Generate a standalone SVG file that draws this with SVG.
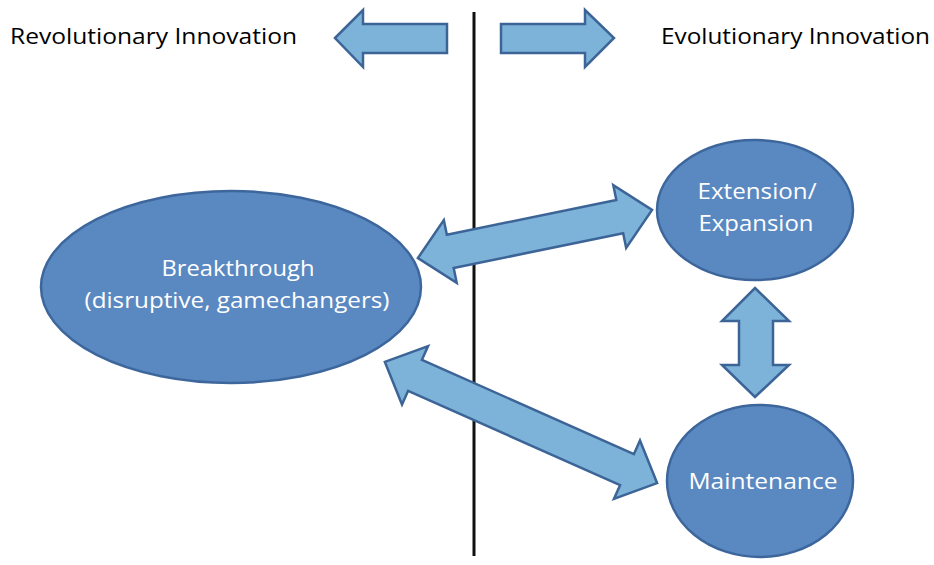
<svg xmlns="http://www.w3.org/2000/svg" width="934" height="565" viewBox="0 0 934 565">
<style>
.node{fill:#5A88C1;stroke:#3D679C;stroke-width:2.5}
.arr{fill:#7DB3D9;stroke:#3C6497;stroke-width:2.5;stroke-linejoin:miter}
.lbl{font-family:"Open Sans","Liberation Sans",sans-serif;font-size:21px;fill:#ffffff;text-anchor:middle}
.top{font-family:"Open Sans","Liberation Sans",sans-serif;font-size:21px;fill:#000000}
</style>
<rect width="934" height="565" fill="#ffffff"/>
<line x1="474" y1="12" x2="474" y2="556" stroke="#111111" stroke-width="3"/>
<g id="top-arrows">
<path class="arr" d="M335,38 L363,10 L363,24 L447,24 L447,53 L363,53 L363,67 Z"/>
<path class="arr" d="M501,24 L585,24 L585,10 L614,38 L585,67 L585,53 L501,53 Z"/>
</g>
<text class="top" x="10" y="44" textLength="287" lengthAdjust="spacingAndGlyphs">Revolutionary Innovation</text>
<text class="top" x="661" y="44" textLength="269" lengthAdjust="spacingAndGlyphs">Evolutionary Innovation</text>
<g id="breakthrough">
<ellipse class="node" cx="231" cy="287" rx="190" ry="96"/>
<text class="lbl" x="238" y="276" textLength="153" lengthAdjust="spacingAndGlyphs">Breakthrough</text>
<text class="lbl" x="237" y="308" textLength="305" lengthAdjust="spacingAndGlyphs">(disruptive, gamechangers)</text>
</g>
<g id="extension">
<ellipse class="node" cx="755" cy="210" rx="98" ry="70"/>
<text class="lbl" x="757" y="199" textLength="119" lengthAdjust="spacingAndGlyphs">Extension/</text>
<text class="lbl" x="756" y="231" textLength="115" lengthAdjust="spacingAndGlyphs">Expansion</text>
</g>
<g id="maintenance">
<ellipse class="node" cx="760" cy="481" rx="93" ry="76"/>
<text class="lbl" x="763" y="489" textLength="149" lengthAdjust="spacingAndGlyphs">Maintenance</text>
</g>
<g id="connectors">
<path class="arr" transform="translate(535,234) rotate(-11.6)" d="M-119.5,0 L-86.5,-32 L-86.5,-17 L86.5,-17 L86.5,-32 L119.5,0 L86.5,32 L86.5,17 L-86.5,17 L-86.5,32 Z"/>
<path class="arr" transform="translate(521,422.5) rotate(24)" d="M-149,0 L-116,-32 L-116,-17 L116,-17 L116,-32 L149,0 L116,32 L116,17 L-116,17 L-116,32 Z"/>
<path class="arr" d="M755,288 L789,321 L773,321 L773,365 L789,365 L755,397 L722,365 L739,365 L739,321 L722,321 Z"/>
</g>
</svg>
